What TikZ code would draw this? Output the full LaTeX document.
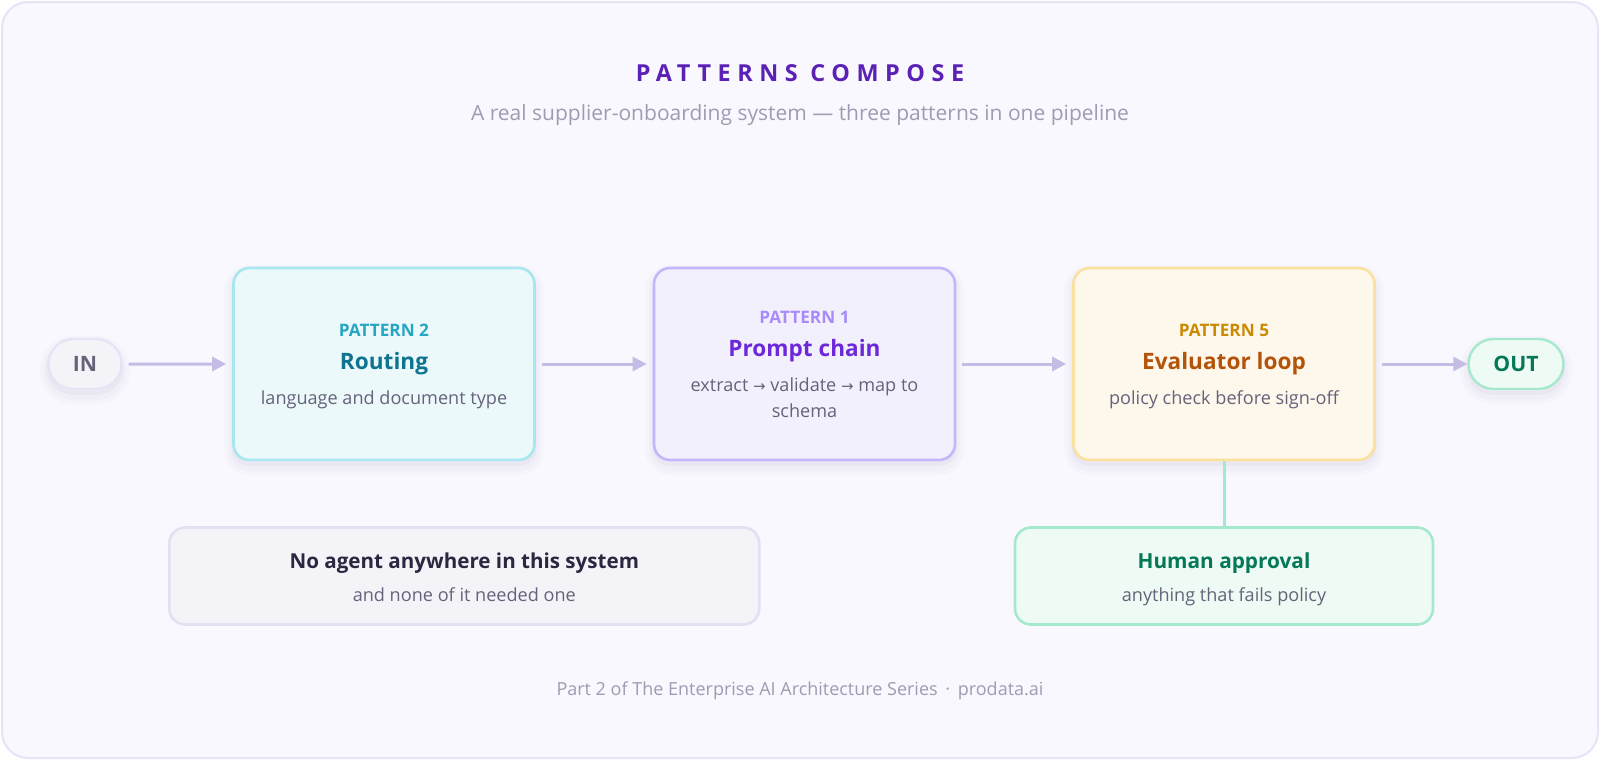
\documentclass[tikz,border=0pt]{standalone}
\usepackage{fontspec}
\setmainfont{Open Sans}
\newfontfamily\spacedfont[LetterSpace=28]{Open Sans}
\newfontfamily\arrowfont{DejaVu Sans}
\usetikzlibrary{arrows.meta,shapes.misc}

\definecolor{pagefill}{HTML}{F9F8FE}
\definecolor{pageline}{HTML}{E6E3F5}
\definecolor{flowline}{HTML}{C5BCE6}
\definecolor{headpurple}{HTML}{5B21B6}
\definecolor{subgray}{HTML}{9E9BB2}
\definecolor{ink}{HTML}{65627A}
\definecolor{darkink}{HTML}{2A2740}
\definecolor{routefill}{HTML}{ECF9FB}
\definecolor{routeline}{HTML}{A8E6F0}
\definecolor{routekick}{HTML}{26A6C2}
\definecolor{routehead}{HTML}{0E7490}
\definecolor{chainfill}{HTML}{F3F0FE}
\definecolor{chainline}{HTML}{C4B5FD}
\definecolor{chainkick}{HTML}{A78BFA}
\definecolor{chainhead}{HTML}{6D28D9}
\definecolor{evalfill}{HTML}{FEF8EC}
\definecolor{evalline}{HTML}{FBE1A0}
\definecolor{evalkick}{HTML}{CA8A04}
\definecolor{evalhead}{HTML}{B45309}
\definecolor{humanfill}{HTML}{EEFBF4}
\definecolor{humanline}{HTML}{A6E8CE}
\definecolor{humanhead}{HTML}{047857}
\definecolor{notefill}{HTML}{F4F4F8}
\definecolor{noteline}{HTML}{E3E0F2}
\definecolor{shadowc}{HTML}{5A5480}

\newcommand{\thento}{{\arrowfont\fontsize{7.5}{9}\selectfont →}}

\begin{document}
\begin{tikzpicture}[x=0.5pt, y=-0.5pt,
  softshadow/.style={
    preaction={draw=shadowc, draw opacity=0.02, line width=9pt, transform canvas={yshift=-3pt}},
    preaction={draw=shadowc, draw opacity=0.03, line width=5pt, transform canvas={yshift=-3pt}},
    preaction={draw=shadowc, draw opacity=0.04, line width=2pt, transform canvas={yshift=-2pt}}},
  pattbox/.style={rounded corners=8pt, line width=1.3pt, minimum width=150.5pt, minimum height=96pt, softshadow},
  notebox/.style={rounded corners=8pt, line width=1.3pt, minimum height=48.5pt},
  pill/.style={shape=rounded rectangle, line width=1.2pt, minimum height=25pt, inner sep=0pt, font=\bfseries\fontsize{10.6}{12}\selectfont, softshadow},
  kicker/.style={anchor=base, font=\bfseries\fontsize{8.6}{10}\selectfont},
  headline/.style={anchor=base, font=\bfseries\fontsize{11.3}{13}\selectfont},
  detail/.style={anchor=base, text=ink, font=\fontsize{9.05}{11}\selectfont},
  flow/.style={draw=flowline, line width=1.5pt, shorten <=3pt, shorten >=3pt, -{Triangle[length=7pt,width=7pt]}}
]
\useasboundingbox (0,0) rectangle (1600,760);
\draw[draw=pageline, fill=pagefill, line width=1pt, rounded corners=13pt] (2,2) rectangle (1598,758);

% title
\node[anchor=base, text=headpurple, font=\spacedfont\bfseries\fontsize{11.7}{14}\selectfont] (title) at (800,81) {PATTERNS COMPOSE};
\node[anchor=base, text=subgray, font=\fontsize{10.5}{12}\selectfont] (subtitle) at (800,120) {A real supplier-onboarding system — three patterns in one pipeline};

% in and out
\node[pill, draw=pageline, fill=notefill, text=ink, minimum width=36.5pt] (in) at (85,364) {IN};
\node[pill, draw=humanline, fill=humanfill, text=humanhead, minimum width=47.5pt] (out) at (1516,364) {OUT};

% the three patterns
\node[pattbox, draw=routeline, fill=routefill] (route) at (384,364) {};
\node[kicker, text=routekick] (route-k) at (384,336) {PATTERN 2};
\node[headline, text=routehead] (route-h) at (384,369) {Routing};
\node[detail] (route-d) at (384,404) {language and document type};

\node[pattbox, draw=chainline, fill=chainfill] (chain) at (804.5,364) {};
\node[kicker, text=chainkick] (chain-k) at (804.5,323) {PATTERN 1};
\node[headline, text=chainhead] (chain-h) at (804.5,356) {Prompt chain};
\node[detail] (chain-d1) at (804.5,391) {extract \thento{} validate \thento{} map to};
\node[detail] (chain-d2) at (804.5,417) {schema};

\node[pattbox, draw=evalline, fill=evalfill] (eval) at (1224,364) {};
\node[kicker, text=evalkick] (eval-k) at (1224,336) {PATTERN 5};
\node[headline, text=evalhead] (eval-h) at (1224,369) {Evaluator loop};
\node[detail] (eval-d) at (1224,404) {policy check before sign-off};

% notes underneath
\node[notebox, draw=noteline, fill=notefill, minimum width=295pt] (noagent) at (464.3,576) {};
\node[headline, text=darkink, font=\bfseries\fontsize{10.3}{12}\selectfont] (noagent-h) at (464.3,568) {No agent anywhere in this system};
\node[detail] (noagent-d) at (464.3,601) {and none of it needed one};

\node[notebox, draw=humanline, fill=humanfill, minimum width=209pt] (human) at (1224,576) {};
\node[headline, text=humanhead, font=\bfseries\fontsize{10.4}{12}\selectfont] (human-h) at (1224,568) {Human approval};
\node[detail] (human-d) at (1224,601) {anything that fails policy};

% connectors
\draw[flow] (in) -- (route);
\draw[flow] (route) -- (chain);
\draw[flow] (chain) -- (eval);
\draw[flow, shorten >=0pt] (eval) -- (out);
\draw[draw=humanline, line width=1.5pt] (eval.south) -- (human.north);

\node[anchor=base, text=subgray, font=\fontsize{9}{11}\selectfont] (footer) at (800,695) {Part 2 of The Enterprise AI Architecture Series \,·\, prodata.ai};
\end{tikzpicture}
\end{document}
